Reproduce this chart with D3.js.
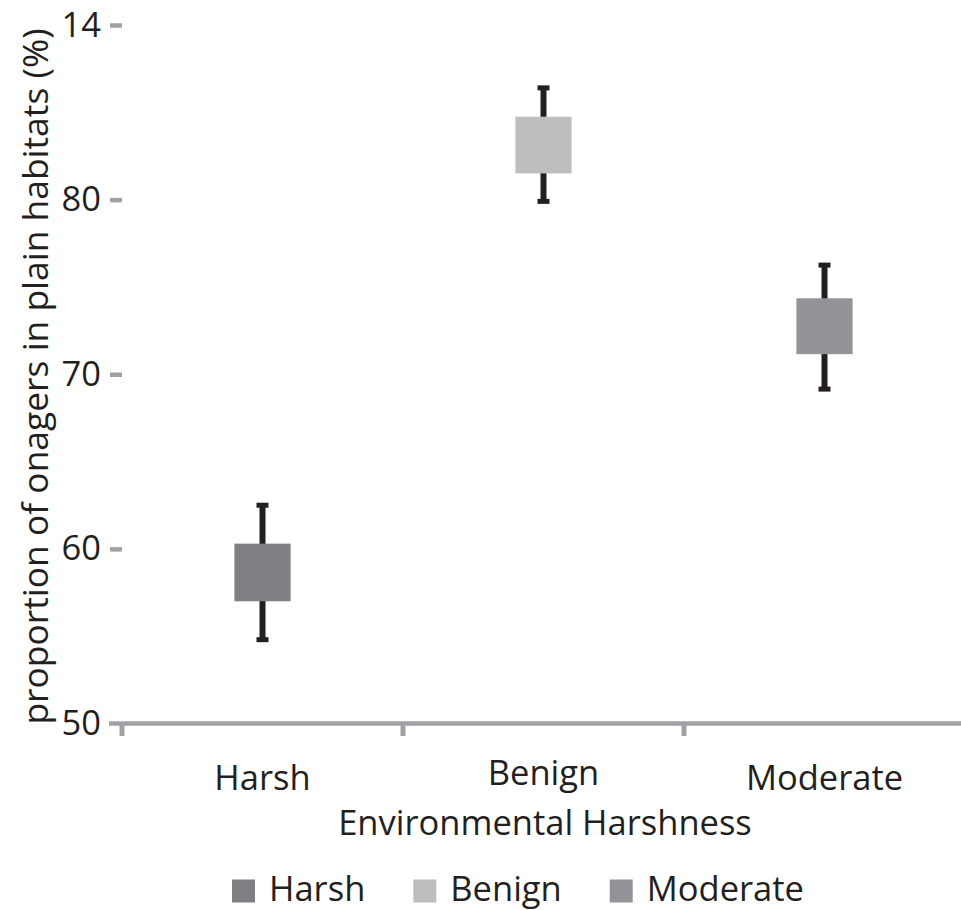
<!DOCTYPE html>
<html>
<head>
<meta charset="utf-8">
<script src="https://cdn.jsdelivr.net/npm/d3@7"></script>
<style>
  html, body { margin: 0; padding: 0; background: #fff; }
  svg { display: block; }
  text { font-family: "Open Sans", "Noto Sans", sans-serif; fill: #231f20; }
</style>
</head>
<body>
<div id="chart"></div>
<script>
// Proportion of onagers in plain habitats by environmental harshness
const categories = ["Harsh", "Benign", "Moderate"];
const boxLow   = [57.0, 81.5, 71.15];
const boxHigh  = [60.3, 84.75, 74.35];
const whiskerLow  = [54.8, 79.9, 69.15];
const whiskerHigh = [62.5, 86.4, 76.25];
const colors = ["#7e7f83", "#bdbec0", "#939498"];

const yTickValues = [50, 60, 70, 80, 90];
const yTickLabels = ["50", "60", "70", "80", "14"];

const xTitle = "Environmental Harshness";
const yTitle = "proportion of onagers in plain habitats (%)";

const W = 961, H = 910;
const fontSize = 34.5;
const axisGrey = "#a0a1a5";
const ink = "#231f20";

const svg = d3.select("#chart").append("svg")
  .attr("width", W).attr("height", H);

const y = d3.scaleLinear().domain([50, 90]).range([723.5, 25]);
const x = d3.scaleBand().domain(categories).range([122, 965]).padding(0);

const rows = categories.map((c, i) => ({
  cat: c, lo: boxLow[i], hi: boxHigh[i], wlo: whiskerLow[i], whi: whiskerHigh[i], color: colors[i]
}));

// Y axis: tick marks and labels only, no spine
const yAxis = d3.axisLeft(y)
  .tickValues(yTickValues)
  .tickFormat((d, i) => yTickLabels[i])
  .tickSize(12)
  .tickPadding(9);
const gy = svg.append("g").attr("transform", "translate(122,0)").call(yAxis);
gy.select(".domain").remove();
gy.selectAll(".tick line").attr("stroke", axisGrey).attr("stroke-width", 4.5);
gy.selectAll(".tick text")
  .attr("font-size", fontSize)
  .attr("font-family", "'Open Sans', sans-serif")
  .attr("fill", ink);
// The bottom tick sits on the category axis line; hide its mark
gy.selectAll(".tick").filter(d => d === 50).select("line").remove();

// X axis: thick grey line with ticks at the category boundaries
const boundaries = categories.map(c => x(c));
svg.append("line")
  .attr("x1", 109).attr("x2", W)
  .attr("y1", y(50)).attr("y2", y(50))
  .attr("stroke", axisGrey).attr("stroke-width", 4.5);
svg.selectAll(".xtick").data(boundaries).join("line")
  .attr("class", "xtick")
  .attr("x1", d => d).attr("x2", d => d)
  .attr("y1", y(50)).attr("y2", y(50) + 12.5)
  .attr("stroke", axisGrey).attr("stroke-width", 5);

svg.selectAll(".xlabel").data(categories).join("text")
  .attr("class", "xlabel")
  .attr("x", d => x(d) + x.bandwidth() / 2)
  .attr("y", d => 790 - (/[gjpqy]/.test(d) ? 5 : 0))
  .attr("text-anchor", "middle")
  .attr("font-size", fontSize)
  .text(d => d);

// Axis titles
svg.append("text")
  .attr("x", 545).attr("y", 835)
  .attr("text-anchor", "middle")
  .attr("font-size", fontSize)
  .text(xTitle);

svg.append("text")
  .attr("transform", "translate(48,376.5) rotate(-90)")
  .attr("text-anchor", "middle")
  .attr("font-size", 35.4)
  .text(yTitle);

// Boxes with whiskers
const boxW = x.bandwidth() * 0.2;
const g = svg.append("g");
const item = g.selectAll("g.item").data(rows).join("g").attr("class", "item")
  .attr("transform", d => `translate(${x(d.cat) + x.bandwidth() / 2},0)`);

item.append("line")
  .attr("x1", 0).attr("x2", 0)
  .attr("y1", d => y(d.whi)).attr("y2", d => y(d.wlo))
  .attr("stroke", ink).attr("stroke-width", 6);
item.append("line")
  .attr("x1", -6).attr("x2", 6)
  .attr("y1", d => y(d.whi)).attr("y2", d => y(d.whi))
  .attr("stroke", ink).attr("stroke-width", 5);
item.append("line")
  .attr("x1", -6).attr("x2", 6)
  .attr("y1", d => y(d.wlo)).attr("y2", d => y(d.wlo))
  .attr("stroke", ink).attr("stroke-width", 5);
item.append("rect")
  .attr("x", -boxW / 2).attr("width", boxW)
  .attr("y", d => y(d.hi)).attr("height", d => y(d.lo) - y(d.hi))
  .attr("fill", d => d.color);

// Legend
const legend = svg.append("g");
let lx = 232;
rows.forEach(d => {
  legend.append("rect")
    .attr("x", lx).attr("y", 879.5).attr("width", 23).attr("height", 23)
    .attr("fill", d.color);
  const t = legend.append("text")
    .attr("x", lx + 23 + 14).attr("y", 901)
    .attr("font-size", fontSize)
    .text(d.cat);
  lx += 23 + 14 + t.node().getComputedTextLength() + 48;
});
</script>
</body>
</html>
